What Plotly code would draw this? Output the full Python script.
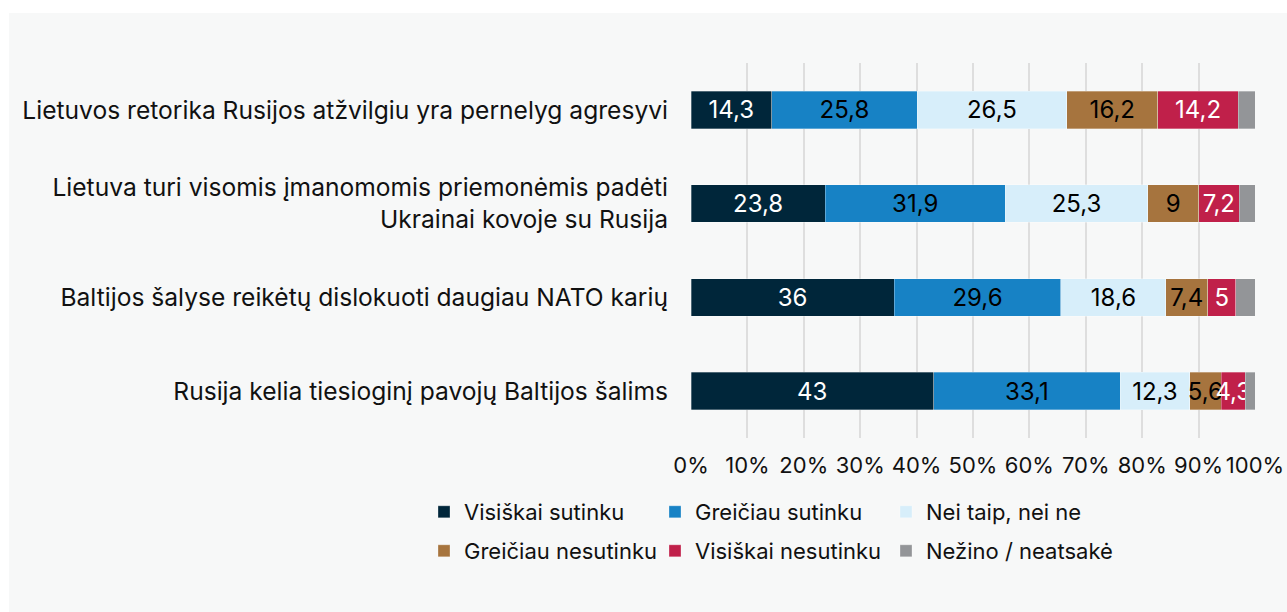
import plotly.graph_objects as go

categories = [
    "Lietuvos retorika Rusijos atžvilgiu yra pernelyg agresyvi",
    "Lietuva turi visomis įmanomomis priemonėmis padėti<br>Ukrainai kovoje su Rusija",
    "Baltijos šalyse reikėtų dislokuoti daugiau NATO karių",
    "Rusija kelia tiesioginį pavojų Baltijos šalims",
]
series_names = [
    "Visiškai sutinku",
    "Greičiau sutinku",
    "Nei taip, nei ne",
    "Greičiau nesutinku",
    "Visiškai nesutinku",
    "Nežino / neatsakė",
]
visiskai_sutinku = [14.3, 23.8, 36, 43]
greiciau_sutinku = [25.8, 31.9, 29.6, 33.1]
nei_taip_nei_ne = [26.5, 25.3, 18.6, 12.3]
greiciau_nesutinku = [16.2, 9, 7.4, 5.6]
visiskai_nesutinku = [14.2, 7.2, 5, 4.3]
nezino = [3.0, 2.8, 3.4, 1.7]

series_values = [visiskai_sutinku, greiciau_sutinku, nei_taip_nei_ne,
                 greiciau_nesutinku, visiskai_nesutinku, nezino]
colors = ["#00263a", "#1782c5", "#d7eefa", "#a6743e", "#c0204a", "#939598"]
text_colors = ["white", "black", "black", "black", "white", "white"]
show_text = [True, True, True, True, True, False]
legend_ids = ["legend", "legend", "legend", "legend2", "legend2", "legend2"]

FONT = "Inter, Roboto, sans-serif"

fig = go.Figure()
for name, vals, col, tcol, st, lg in zip(series_names, series_values, colors,
                                         text_colors, show_text, legend_ids):
    fig.add_trace(go.Bar(
        y=categories, x=vals, name=name, orientation="h",
        marker=dict(color=col, line=dict(width=0.6, color="rgba(255,255,255,0.5)")),
        text=[f"{v:g}".replace(".", ",") for v in vals] if st else None,
        textposition="inside" if st else "none",
        insidetextanchor="middle",
        textangle=0,
        textfont=dict(color=tcol, size=24, family=FONT),
        legend=lg,
        hoverinfo="x+y+name",
    ))

# background panel
fig.add_shape(type="rect", xref="paper", yref="paper",
              x0=(9 - 691) / 564, x1=(1287 - 691) / 564 + 0.01,
              y0=(438 - 612) / 375 - 0.01, y1=(438 - 13) / 375,
              fillcolor="#f7f8f8", line=dict(width=0), layer="below")

fig.update_layout(
    width=1287, height=612,
    barmode="stack",
    bargap=0.6,
    separators=", ",
    paper_bgcolor="white",
    plot_bgcolor="rgba(0,0,0,0)",
    margin=dict(l=691, r=32, t=63, b=174),
    font=dict(family=FONT, color="#111111", size=22),
    uniformtext=dict(minsize=24, mode="show"),
    xaxis=dict(range=[0, 100], dtick=10, ticksuffix="%", showgrid=True,
               gridcolor="#dedede", gridwidth=1.5, zeroline=False,
               tickfont=dict(size=22, family=FONT, color="#111111"),
               ticklabelstandoff=12, fixedrange=True),
    yaxis=dict(autorange="reversed", showgrid=False, zeroline=False,
               tickfont=dict(size=24.6, family=FONT, color="#111111"),
               ticklabelstandoff=22, fixedrange=True),
    legend=dict(orientation="h", x=(432 - 691) / 564, xanchor="left",
                y=(438 - 512) / 375, yanchor="middle",
                entrywidth=194, entrywidthmode="pixels", indentation=-8,
                font=dict(size=22, family=FONT, color="#111111"),
                bgcolor="rgba(0,0,0,0)", traceorder="normal"),
    legend2=dict(orientation="h", x=(432 - 691) / 564, xanchor="left",
                 y=(438 - 551) / 375, yanchor="middle",
                 entrywidth=194, entrywidthmode="pixels", indentation=-8,
                 font=dict(size=22, family=FONT, color="#111111"),
                 bgcolor="rgba(0,0,0,0)", traceorder="normal"),
)

fig.write_html("out.html",
               config={"displayModeBar": False},
               post_script="document.body.style.margin='0';document.body.style.overflow='hidden';")
